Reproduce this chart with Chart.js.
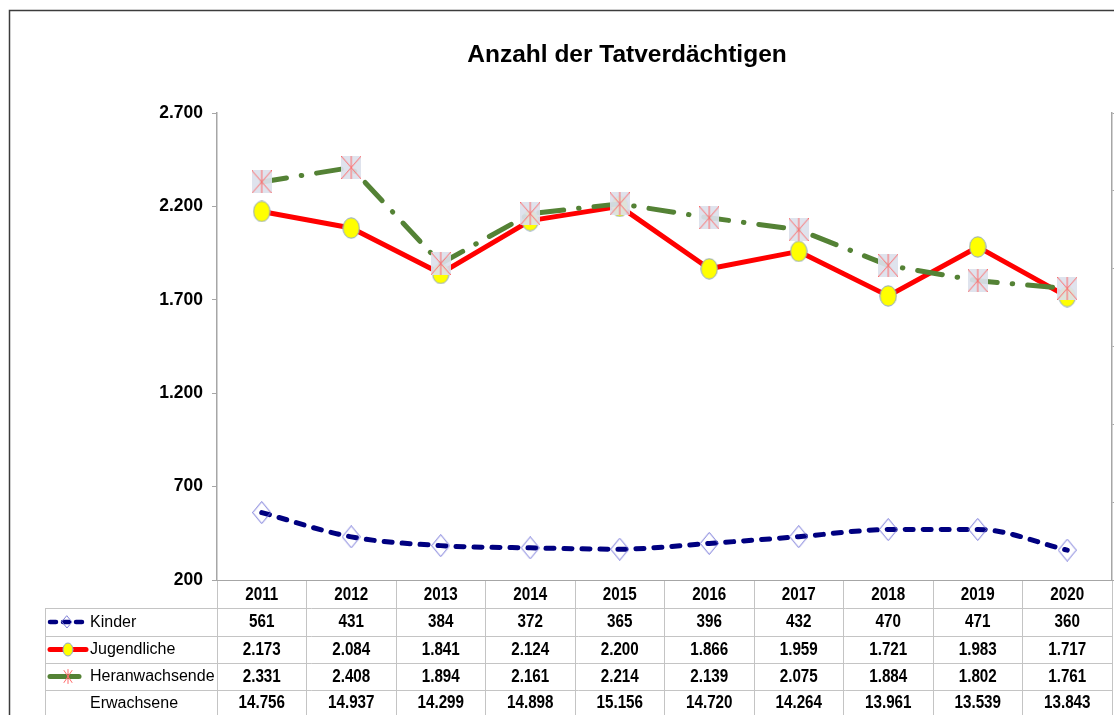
<!DOCTYPE html>
<html><head><meta charset="utf-8">
<script src="https://cdn.jsdelivr.net/npm/chart.js@4.4.1/dist/chart.umd.min.js"></script>
<style>
html,body{margin:0;padding:0;background:#fff;overflow:hidden}
#wrap{position:absolute;left:0;top:0;width:1114px;height:715px}
</style>
</head><body>
<div id="wrap"><canvas id="c" width="1114" height="715"></canvas></div>
<script>
const chartTitle = 'Anzahl der Tatverdächtigen';
const years = ['2011','2012','2013','2014','2015','2016','2017','2018','2019','2020'];
const kinder = [561, 431, 384, 372, 365, 396, 432, 470, 471, 360];
const jugendliche = [2173, 2084, 1841, 2124, 2200, 1866, 1959, 1721, 1983, 1717];
const heranwachsende = [2331, 2408, 1894, 2161, 2214, 2139, 2075, 1884, 1802, 1761];
const erwachsene = [14756, 14937, 14299, 14898, 15156, 14720, 14264, 13961, 13539, 13843];
const seriesNames = ['Kinder', 'Jugendliche', 'Heranwachsende', 'Erwachsene'];
const yMin = 200, yMax = 2700, yStep = 500;
const y2Min = 12000, y2Max = 15000, y2Step = 500;

const F = '"Liberation Sans", Arial, Helvetica, sans-serif';
const fmt = n => String(n).replace(/\B(?=(\d{3})+(?!\d))/g, '.');

function mk(w, h, fn){ const c=document.createElement('canvas'); c.width=w; c.height=h; fn(c.getContext('2d'), w, h); return c; }
const diamondImg = mk(19, 23, (x,w,h)=>{
  x.strokeStyle='#6f6fd6'; x.lineWidth=1;
  x.beginPath(); x.moveTo(w/2,0.5); x.lineTo(w-0.5,h/2); x.lineTo(w/2,h-0.5); x.lineTo(0.5,h/2); x.closePath(); x.stroke();
});
const ellipseImg = mk(18, 22, (x,w,h)=>{
  x.fillStyle='#ffff00'; x.strokeStyle='#8ea6c8'; x.lineWidth=1;
  x.beginPath(); x.ellipse(w/2,h/2,w/2-0.8,h/2-0.8,0,0,Math.PI*2); x.fill(); x.stroke();
});
const starImg = mk(20, 23, (x,w,h)=>{
  x.fillStyle='rgba(220,225,236,0.92)'; x.fillRect(0,0,w,h);
  x.strokeStyle='#ff6666'; x.lineWidth=1;
  x.beginPath(); x.moveTo(w/2,0); x.lineTo(w/2,h); x.moveTo(0,0); x.lineTo(w,h); x.moveTo(w,0); x.lineTo(0,h); x.stroke();
});

const tablePlugin = {
  id: 'tablePlugin',
  beforeDraw(chart){
    const ctx = chart.ctx;
    ctx.save();
    ctx.fillStyle = '#fff'; ctx.fillRect(0,0,chart.width,chart.height);
    ctx.strokeStyle = '#3c3c3c'; ctx.lineWidth = 1.5;
    ctx.strokeRect(9.5, 10.5, 1300, 900);
    ctx.restore();
  },
  afterDraw(chart){
    const ctx = chart.ctx, xs = chart.scales.x, area = chart.chartArea;
    ctx.save();
    // title
    ctx.fillStyle = '#000'; ctx.textAlign = 'center'; ctx.textBaseline = 'alphabetic';
    ctx.font = 'bold 24.5px ' + F;
    ctx.fillText(chartTitle, 627, 62);

    // table grid
    const rowLines = [608, 636, 663, 690];
    const labelLeft = 45, right = area.right;
    ctx.strokeStyle = '#c4c4c4'; ctx.lineWidth = 1;
    ctx.beginPath();
    rowLines.forEach(y => { ctx.moveTo(labelLeft, y + 0.5); ctx.lineTo(right, y + 0.5); });
    ctx.moveTo(labelLeft + 0.5, rowLines[0]); ctx.lineTo(labelLeft + 0.5, chart.height);
    ctx.stroke();

    // header years and values
    const rowCenters = [622, 649.5, 676.5, 703];
    const values = [kinder, jugendliche, heranwachsende, erwachsene];
    const drawNum = (txt, cx, cy) => {
      ctx.save(); ctx.translate(cx, cy); ctx.scale(0.87, 1.05);
      ctx.fillText(txt, 0, 0); ctx.restore();
    };
    ctx.fillStyle = '#000'; ctx.textAlign = 'center'; ctx.textBaseline = 'middle';
    ctx.font = 'bold 17.5px ' + F;
    years.forEach((yr, i) => {
      const cx = xs.getPixelForValue(i);
      drawNum(yr, cx, 595);
      values.forEach((arr, r) => drawNum(fmt(arr[i]), cx, rowCenters[r]));
    });

    // row labels
    ctx.textAlign = 'left'; ctx.font = '16px ' + F;
    seriesNames.forEach((n, r) => ctx.fillText(n, 90, rowCenters[r] + 0.5));

    // legend keys
    ctx.lineCap = 'round';
    let y = rowCenters[0];
    ctx.strokeStyle = '#000080'; ctx.lineWidth = 4.5; ctx.setLineDash([6, 7]);
    ctx.beginPath(); ctx.moveTo(50, y); ctx.lineTo(86, y); ctx.stroke();
    ctx.setLineDash([]);
    ctx.strokeStyle = '#8080d8'; ctx.lineWidth = 1;
    ctx.beginPath(); ctx.moveTo(67, y-6); ctx.lineTo(72, y); ctx.lineTo(67, y+6); ctx.lineTo(62, y); ctx.closePath(); ctx.stroke();

    y = rowCenters[1];
    ctx.strokeStyle = '#ff0000'; ctx.lineWidth = 5;
    ctx.beginPath(); ctx.moveTo(50, y); ctx.lineTo(86, y); ctx.stroke();
    ctx.fillStyle = '#ffff00'; ctx.strokeStyle = '#8ea6c8'; ctx.lineWidth = 1;
    ctx.beginPath(); ctx.ellipse(68, y, 5, 6.5, 0, 0, Math.PI*2); ctx.fill(); ctx.stroke();

    y = rowCenters[2];
    ctx.strokeStyle = '#548235'; ctx.lineWidth = 5;
    ctx.beginPath(); ctx.moveTo(50, y); ctx.lineTo(79, y); ctx.stroke();
    ctx.strokeStyle = '#ff6a6a'; ctx.lineWidth = 1;
    ctx.beginPath(); ctx.moveTo(68, y-7); ctx.lineTo(68, y+7); ctx.moveTo(64, y-6); ctx.lineTo(72, y+6); ctx.moveTo(72, y-6); ctx.lineTo(64, y+6); ctx.stroke();
    ctx.restore();
  }
};

new Chart(document.getElementById('c').getContext('2d'), {
  type: 'line',
  data: {
    labels: years,
    datasets: [
      { label: seriesNames[0], data: kinder, borderColor: '#000080', backgroundColor: 'transparent', borderWidth: 5,
        borderDash: [8, 10], borderCapStyle: 'round', cubicInterpolationMode: 'monotone', pointStyle: diamondImg, pointRadius: 9, order: 2, fill: false },
      { label: seriesNames[1], data: jugendliche, borderColor: '#ff0000', backgroundColor: 'transparent', borderWidth: 5,
        borderJoinStyle: 'round', tension: 0, pointStyle: ellipseImg, pointRadius: 9, order: 1, fill: false },
      { label: seriesNames[2], data: heranwachsende, borderColor: '#548235', backgroundColor: 'transparent', borderWidth: 5,
        borderDash: [25, 15, 0.5, 15], borderCapStyle: 'round', tension: 0, pointStyle: starImg, pointRadius: 9, order: 0, fill: false }
    ]
  },
  options: {
    responsive: false, animation: false, events: [],
    layout: { autoPadding: false, padding: { left: 0, right: 0, top: 113, bottom: 0 } },
    plugins: { legend: { display: false }, tooltip: { enabled: false }, title: { display: false } },
    scales: {
      x: {
        offset: true,
        grid: { offset: true, drawOnChartArea: false, drawTicks: true, tickLength: 135, color: '#c4c4c4', lineWidth: 1 },
        border: { display: true, color: '#a6a6a6', width: 1 },
        ticks: { display: false },
        afterFit(s){ s.height = 135; }
      },
      y: {
        min: yMin, max: yMax,
        ticks: { stepSize: yStep, padding: 9, color: '#000', font: { family: F, size: 17.5, weight: 'bold' }, callback: v => fmt(v) },
        grid: { drawOnChartArea: false, drawTicks: true, tickLength: 5, color: '#a6a6a6' },
        border: { display: true, color: '#a6a6a6', width: 1.5 },
        afterFit(s){ s.width = 217; }
      },
      y2: {
        position: 'right', min: y2Min, max: y2Max,
        ticks: { display: false, stepSize: y2Step },
        grid: { drawOnChartArea: false, drawTicks: true, tickLength: 6, color: '#a6a6a6' },
        border: { display: true, color: '#a6a6a6', width: 1.5 },
        afterFit(s){ s.width = 2; }
      }
    }
  },
  plugins: [tablePlugin]
});
</script>
</body></html>
